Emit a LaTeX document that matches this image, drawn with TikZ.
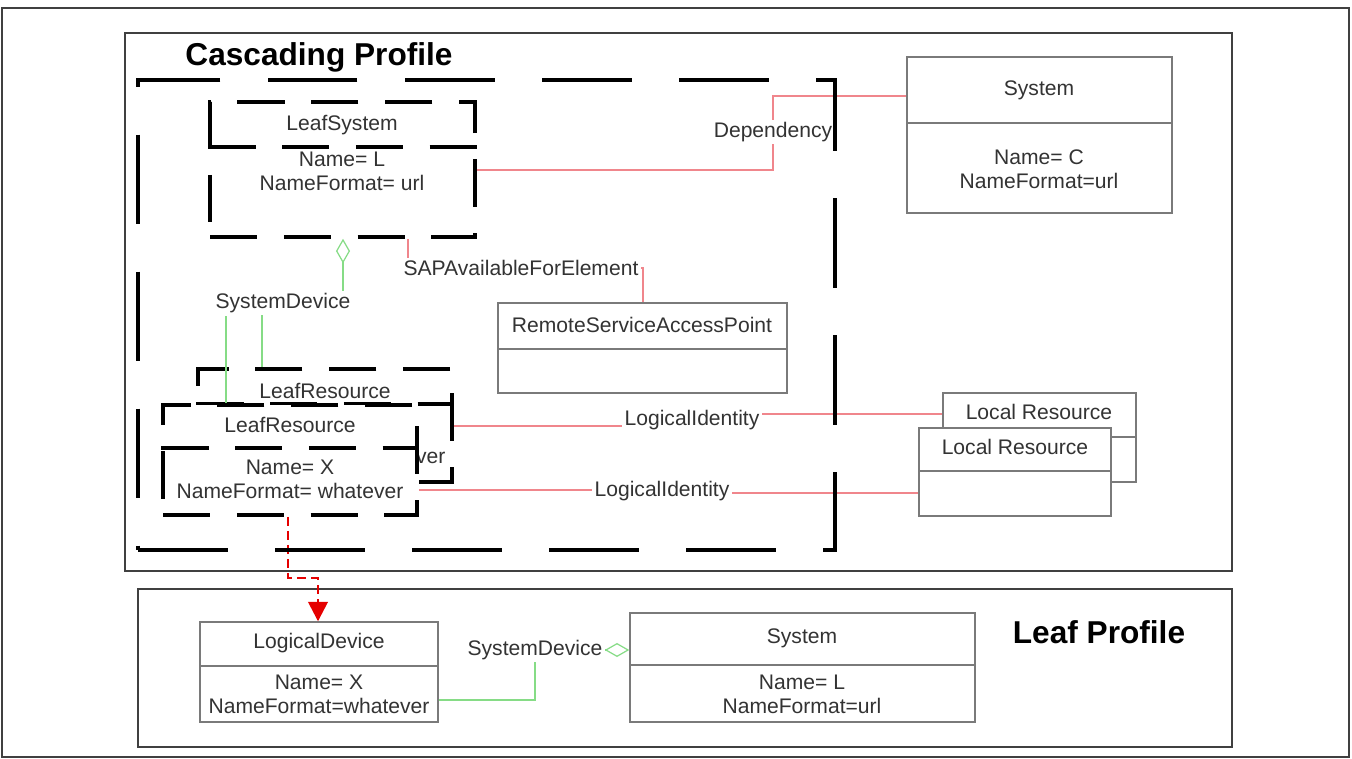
\documentclass[tikz,border=0pt]{standalone}
\usepackage{fontspec}
\setmainfont{Liberation Sans}
\usetikzlibrary{fit,arrows.meta}
\definecolor{boxgray}{HTML}{7A7A7A}
\definecolor{textgray}{HTML}{333333}
\definecolor{linkred}{HTML}{F0868C}
\definecolor{linkgreen}{HTML}{86DC86}
\tikzset{
  frame/.style={draw=black!75, line width=1.1pt, inner sep=0pt},
  umlbox/.style={draw=boxgray, line width=0.8pt, fill=white, inner sep=0pt},
  divider/.style={draw=boxgray, line width=0.8pt},
  leafbox/.style={draw=black, line width=2pt, dash pattern=on 27pt off 15pt, fill=white, inner sep=0pt},
  leafdiv/.style={draw=black, line width=2pt, dash pattern=on 27pt off 15pt},
  cascdash/.style={draw=black, line width=2.8pt, dash pattern=on 51pt off 27pt, inner sep=0pt},
  txt/.style={text=textgray, font=\fontsize{12}{13.5}\selectfont, inner sep=1pt, align=center},
  lbl/.style={txt, fill=white, inner sep=1.5pt},
  title/.style={text=black, font=\fontsize{18}{20}\selectfont\bfseries, inner sep=0pt},
  redlink/.style={draw=linkred, line width=0.7pt},
  greenlink/.style={draw=linkgreen, line width=0.7pt},
  agg/.style={{Diamond[fill=white,length=14pt,width=8pt]}-},
  refine/.style={draw=red!90!black, line width=1.5pt, dash pattern=on 5pt off 3pt, -{Triangle[length=11pt,width=11pt]}}
}
\begin{document}
\begin{tikzpicture}[x=0.02cm,y=-0.02cm]
\useasboundingbox (0,0) rectangle (1352,759);
\node[frame, fit={(2,8)(1349,757)}] (page) {};
\node[frame, fit={(125,33)(1232,571)}] (casc) {};
\node[frame, fit={(138,589)(1232,747)}] (leaf) {};

\node[leafbox, fit={(210,102)(475,237)}] (leafsys) {};
\draw[leafdiv] (leafsys.west |- 0,147) -- (leafsys.east |- 0,147);
\node[txt] (leafsystitle) at (342,125) {LeafSystem};
\node[txt] (leafsysattr) at (342,171) {Name= L\\NameFormat= url};

\node[umlbox, fit={(907,57)(1172,213)}] (csys) {};
\draw[divider] (csys.west |- 0,123) -- (csys.east |- 0,123);
\node[txt] (csystitle) at (1039,90) {System};
\node[txt] (csysattr) at (1039,169) {Name= C\\NameFormat=url};

\node[umlbox, fit={(498,303)(787,393)}] (rsap) {};
\draw[divider] (rsap.west |- 0,349) -- (rsap.east |- 0,349);
\node[txt] (rsaptitle) at (642,325) {RemoteServiceAccessPoint};

\node[leafbox, fit={(198,369)(452,482)}] (lrback) {};
\draw[leafdiv] (lrback.west |- 0,404) -- (lrback.east |- 0,404);
\node[txt] (lrbacktitle) at (325,391) {LeafResource};
\node[txt] (lrbackattr) at (332,444) {Name= X\\NameFormat= whatever};

\node[leafbox, fit={(163,405)(417,515)}] (lrfront) {};
\draw[leafdiv] (lrfront.west |- 0,448) -- (lrfront.east |- 0,448);
\node[txt] (lrfronttitle) at (290,425) {LeafResource};
\node[txt] (lrfrontattr) at (290,479) {Name= X\\NameFormat= whatever};

\node[umlbox, fit={(943,393)(1136,482)}] (locback) {};
\draw[divider] (locback.west |- 0,437) -- (locback.east |- 0,437);
\node[txt] (locbacktitle) at (1039,412) {Local Resource};

\node[umlbox, fit={(919,428)(1111,516)}] (locfront) {};
\draw[divider] (locfront.west |- 0,471) -- (locfront.east |- 0,471);
\node[txt] (locfronttitle) at (1015,447) {Local Resource};

\node[umlbox, fit={(200,622)(438,722)}] (ldev) {};
\draw[divider] (ldev.west |- 0,666) -- (ldev.east |- 0,666);
\node[txt] (ldevtitle) at (319,643) {LogicalDevice};
\node[txt] (ldevattr) at (319,694) {Name= X\\NameFormat=whatever};

\node[umlbox, fit={(630,613)(975,722)}] (lsys) {};
\draw[divider] (lsys.west |- 0,665) -- (lsys.east |- 0,665);
\node[txt] (lsystitle) at (802,638) {System};
\node[txt] (lsysattr) at (802,694) {Name= L\\NameFormat=url};

\draw[redlink] (leafsys.east |- 0,170) -- (773,170) -- (773,132) node[lbl] (deplbl) {Dependency} -- (773,96) -- (csys.west |- 0,96);
\draw[redlink] (408,0 |- leafsys.south) -- (408,268) -- (521,268) node[lbl] (saplbl) {SAPAvailableForElement} -- (643,268) -- (643,0 |- rsap.north);
\draw[greenlink, agg] (343,0 |- leafsys.south) -- (343,303) -- (283,303) node[lbl] (sdlbl) {SystemDevice} -- (262,303) -- (262,0 |- lrback.north);
\draw[greenlink] (226,0 |- sdlbl.south) -- (226,0 |- lrfront.north);
\draw[redlink] (lrback.east |- 0,426) -- (692,426) -- (692,420) node[lbl] (li1lbl) {LogicalIdentity} -- (692,414) -- (locback.west |- 0,414);
\draw[redlink] (lrfront.east |- 0,490) -- (662,490) -- (662,491) node[lbl] (li2lbl) {LogicalIdentity} -- (662,493) -- (locfront.west |- 0,493);
\draw[refine] (288,0 |- lrfront.south) -- (288,578) -- (318,578) -- (318,0 |- ldev.north);
\draw[greenlink, agg] (lsys.west |- 0,650) -- (535,650) node[lbl] (sd2lbl) {SystemDevice} -- (535,700) -- (ldev.east |- 0,700);

\node[cascdash, fit={(138,80)(835,550)}] (cascbox) {};
\node[title] (casctitle) at (319,57) {Cascading Profile};
\node[title] (leaftitle) at (1099,632) {Leaf Profile};
\end{tikzpicture}
\end{document}
